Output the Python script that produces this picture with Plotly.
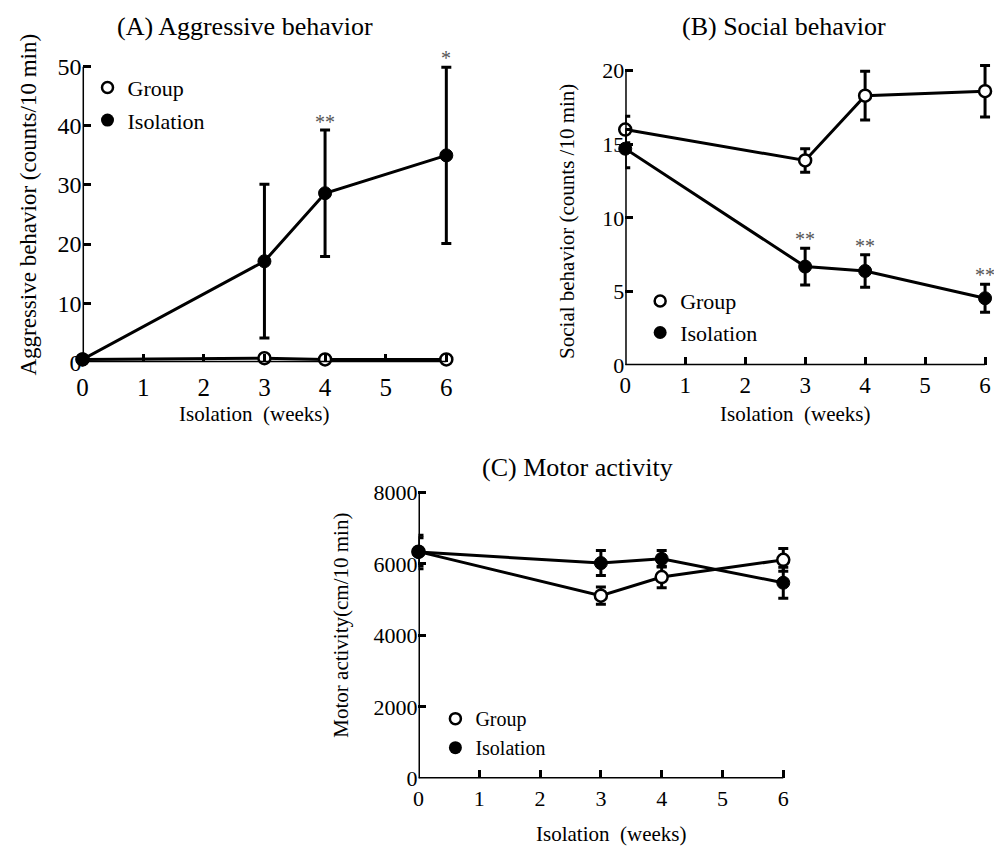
import plotly.graph_objects as go

weeks = [0, 3, 4, 6]

# (A) Aggressive behavior (counts/10 min)
agg_group = [0.5, 0.7, 0.5, 0.5]
agg_group_err = [0.0, 0.0, 0.0, 0.0]
agg_iso = [0.5, 17.1, 28.6, 35.0]
agg_iso_err = [0.0, 13.0, 10.7, 14.9]
agg_sig = ["", "", "**", "*"]
agg_sig_y = [0, 0, 39.2, 49.9]

# (B) Social behavior (counts /10 min)
soc_group = [16.0, 13.9, 18.3, 18.6]
soc_group_err = [0.9, 0.8, 1.65, 1.75]
soc_iso = [14.7, 6.7, 6.4, 4.55]
soc_iso_err = [1.3, 1.25, 1.1, 0.95]
soc_sig = ["", "**", "**", "**"]
soc_sig_y = [0, 7.95, 7.5, 5.5]

# (C) Motor activity (cm/10 min)
mot_group = [6340, 5110, 5630, 6110]
mot_group_err = [390, 240, 300, 320]
mot_iso = [6330, 6020, 6140, 5470]
mot_iso_err = [470, 350, 230, 430]

x_ticks = [0, 1, 2, 3, 4, 5, 6]
agg_ticks = [0, 10, 20, 30, 40, 50]
soc_ticks = [0, 5, 10, 15, 20]
mot_ticks = [0, 2000, 4000, 6000, 8000]

FONT = "Liberation Serif, Times New Roman, serif"
W, H = 994, 858


def px(x):
    return x / W


def py(y):
    return 1 - y / H


def xaxis_geom(p0, p6, rmax):
    right = min(p0 + (p6 - p0) * rmax / 6.0, W)
    r = 6.0 * (right - p0) / (p6 - p0)
    return [px(p0), px(right)], [0, r]


def yaxis_geom(p0, ptop, vtop, rmax):
    return [py(p0), py(p0 - (p0 - ptop) * rmax / vtop)], [0, rmax]


XMAX = 6.25

fig = go.Figure()

panels = [
    (agg_group, agg_group_err, agg_iso, agg_iso_err, "x", "y", "legend"),
    (soc_group, soc_group_err, soc_iso, soc_iso_err, "x2", "y2", "legend2"),
    (mot_group, mot_group_err, mot_iso, mot_iso_err, "x3", "y3", "legend3"),
]

for g, ge, iso, ie, xa, ya, lg in panels:
    fig.add_trace(go.Scatter(
        x=weeks, y=g, mode="lines+markers", xaxis=xa, yaxis=ya,
        line=dict(color="black", width=3),
        marker=dict(symbol="circle", size=12, color="white",
                    line=dict(color="black", width=2.5)),
        error_y=dict(type="data", array=ge, visible=True, color="black",
                     thickness=3, width=5),
        cliponaxis=False, showlegend=False))
    fig.add_trace(go.Scatter(
        x=weeks, y=iso, mode="lines+markers", xaxis=xa, yaxis=ya,
        line=dict(color="black", width=3),
        marker=dict(symbol="circle", size=13, color="black",
                    line=dict(color="black", width=1)),
        error_y=dict(type="data", array=ie, visible=True, color="black",
                     thickness=3, width=5),
        cliponaxis=False, showlegend=False))
    fig.add_trace(go.Scatter(
        x=[None], y=[None], mode="markers", xaxis=xa, yaxis=ya,
        name="Group", legend=lg, legendgroup=lg + "g",
        marker=dict(symbol="circle", size=11, color="white",
                    line=dict(color="black", width=2.5))))
    fig.add_trace(go.Scatter(
        x=[None], y=[None], mode="markers", xaxis=xa, yaxis=ya,
        name="Isolation", legend=lg, legendgroup=lg + "i",
        marker=dict(symbol="circle", size=13, color="black")))

axis_common = dict(showgrid=False, zeroline=False, showline=False,
                   ticks="inside", ticklen=8, tickwidth=3, tickcolor="black",
                   fixedrange=True)

xd1, xr1 = xaxis_geom(77, 443, XMAX)
xd2, xr2 = xaxis_geom(623, 985, XMAX)
xd3, xr3 = xaxis_geom(415, 782, XMAX)
yd1, yr1 = yaxis_geom(365, 63, 50, 51.5)
yd2, yr2 = yaxis_geom(368, 67, 20, 20.6)
yd3, yr3 = yaxis_geom(790, 497.7, 8000, 8200)

fig.update_layout(
    width=W, height=H, margin=dict(l=0, r=0, t=0, b=0),
    paper_bgcolor="white", plot_bgcolor="white",
    font=dict(family=FONT, color="black"),
    xaxis=dict(domain=xd1, range=xr1, tickvals=x_ticks, anchor="y",
               tickfont=dict(size=25), ticklabelstandoff=8, **axis_common),
    yaxis=dict(domain=yd1, range=yr1, tickvals=agg_ticks, anchor="x",
               tickfont=dict(size=24), **axis_common),
    xaxis2=dict(domain=xd2, range=xr2, tickvals=x_ticks, anchor="y2",
                tickfont=dict(size=23), ticklabelstandoff=4, **axis_common),
    yaxis2=dict(domain=yd2, range=yr2, tickvals=soc_ticks, anchor="x2",
                tickfont=dict(size=22), **axis_common),
    xaxis3=dict(domain=xd3, range=xr3, tickvals=x_ticks, anchor="y3",
                tickfont=dict(size=22), ticklabelstandoff=5, **axis_common),
    yaxis3=dict(domain=yd3, range=yr3, tickvals=mot_ticks, anchor="x3",
                tickfont=dict(size=22), **axis_common),
    legend=dict(x=px(82), y=py(63), xanchor="left", yanchor="top",
                font=dict(size=22), bgcolor="rgba(0,0,0,0)", tracegroupgap=1,
                itemclick=False, itemdoubleclick=False),
    legend2=dict(x=px(638), y=py(281), xanchor="left", yanchor="top",
                 font=dict(size=22), bgcolor="rgba(0,0,0,0)", tracegroupgap=0,
                 itemclick=False, itemdoubleclick=False),
    legend3=dict(x=px(432), y=py(709), xanchor="left", yanchor="top",
                 font=dict(size=20), bgcolor="rgba(0,0,0,0)", tracegroupgap=0,
                 itemclick=False, itemdoubleclick=False),
)

axis_lines = [("x", "y", 6, 50), ("x2", "y2", 6, 20), ("x3", "y3", 6, 8000)]
for xa, ya, xend, yend in axis_lines:
    fig.add_shape(type="line", xref=xa, yref=ya, x0=0, x1=xend, y0=0, y1=0,
                  line=dict(color="black", width=3))
    fig.add_shape(type="line", xref=xa, yref=ya, x0=0, x1=0, y0=0, y1=yend,
                  line=dict(color="black", width=3))

annotations = [
    dict(text="(A) Aggressive behavior", x=px(240), y=py(22), size=26),
    dict(text="(B) Social behavior", x=px(783), y=py(22), size=26),
    dict(text="(C) Motor activity", x=px(575), y=py(472), size=26),
    dict(text="Isolation  (weeks)", x=px(250), y=py(418), size=21),
    dict(text="Isolation  (weeks)", x=px(794), y=py(418), size=21),
    dict(text="Isolation  (weeks)", x=px(609), y=py(847), size=21),
]
for a in annotations:
    fig.add_annotation(text=a["text"], x=a["x"], y=a["y"], xref="paper",
                       yref="paper", xanchor="center", yanchor="middle",
                       showarrow=False, font=dict(size=a["size"], family=FONT))

ytitles = [
    ("Aggressive behavior (counts/10 min)", 23, 204, 23),
    ("Social behavior (counts /10 min)", 565, 221, 21),
    ("Motor activity(cm/10 min)", 337, 633, 21),
]
for t, xx, yy, fs in ytitles:
    fig.add_annotation(text=t, x=px(xx), y=py(yy), xref="paper", yref="paper",
                       xanchor="center", yanchor="middle", textangle=-90,
                       showarrow=False, font=dict(size=fs, family=FONT))

for xs, lab, yv, xa, ya in [(weeks, agg_sig, agg_sig_y, "x", "y"),
                             (weeks, soc_sig, soc_sig_y, "x2", "y2")]:
    for xv, l, yy in zip(xs, lab, yv):
        if l:
            fig.add_annotation(text=l, x=xv, y=yy, xref=xa, yref=ya,
                               xanchor="center", yanchor="bottom", yshift=-4,
                               showarrow=False,
                               font=dict(size=20, family=FONT, color="#555555"))

fig.write_html("out.html",
               config={"displayModeBar": False, "staticPlot": True},
               post_script="document.body.style.margin='0px';"
                           "document.body.style.overflow='hidden';")
